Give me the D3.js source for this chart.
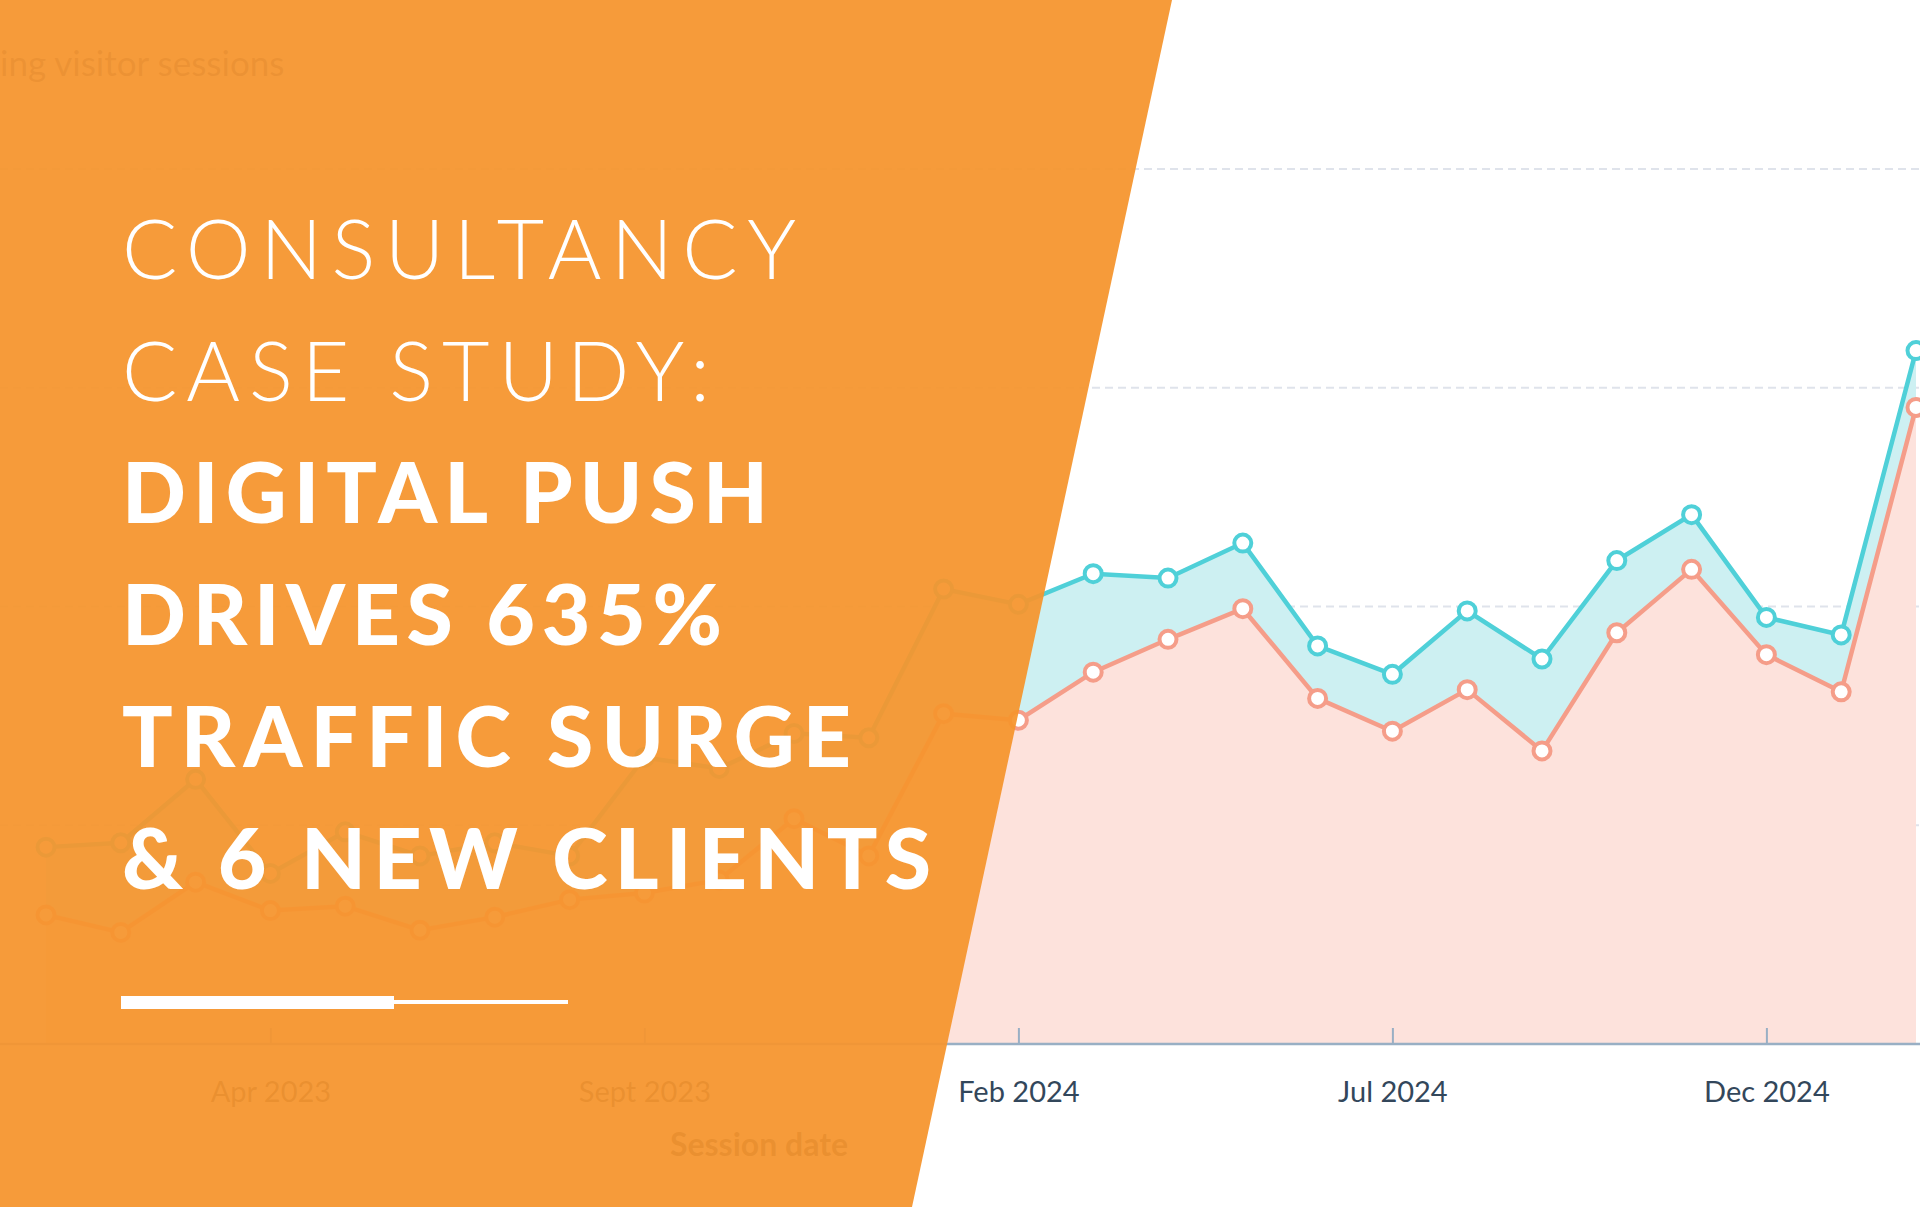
<!DOCTYPE html>
<html lang="en">
<head>
<meta charset="UTF-8">
<title>Consultancy case study</title>
<script src="https://d3js.org/d3.v7.min.js"></script>
<style>
  html, body { margin: 0; padding: 0; background: #fff; overflow: hidden; }
  svg { display: block; }
</style>
</head>
<body>
<svg id="chart" width="1920" height="1207"></svg>
<script>
// Monthly sessions (units of one gridline step), Jan 2023 .. Feb 2025
const months = ["Jan 2023","Feb 2023","Mar 2023","Apr 2023","May 2023","Jun 2023","Jul 2023","Aug 2023",
  "Sept 2023","Oct 2023","Nov 2023","Dec 2023","Jan 2024","Feb 2024","Mar 2024","Apr 2024","May 2024","Jun 2024",
  "Jul 2024","Aug 2024","Sep 2024","Oct 2024","Nov 2024","Dec 2024","Jan 2025","Feb 2025"];
const tickMonths = ["Apr 2023","Sept 2023","Feb 2024","Jul 2024","Dec 2024"];
const totalSessions = [0.90,0.92,1.21,0.78,0.97,0.86,0.92,0.86,1.31,1.26,1.42,1.40,2.08,2.01,2.15,2.13,2.29,1.82,1.69,1.98,1.76,2.21,2.42,1.95,1.87,3.17];
const returningSessions = [0.59,0.51,0.74,0.61,0.63,0.52,0.58,0.66,0.69,0.75,1.03,0.86,1.51,1.48,1.70,1.85,1.99,1.58,1.43,1.62,1.34,1.88,2.17,1.78,1.61,2.91];
const gridValues = [1, 2, 3, 4];
const titleLight = ["CONSULTANCY", "CASE STUDY:"];
const titleBold = ["DIGITAL PUSH", "DRIVES 635%", "TRAFFIC SURGE", "& 6 NEW CLIENTS"];

const svg = d3.select("#chart");
const baseY = 1044;

const x = d3.scalePoint().domain(months).range([46, 1916]);
const y = d3.scaleLinear().domain([0, 4]).range([baseY, 169]);

const chart = svg.append("g");

// chart title, only its tail shows under the banner
chart.append("text")
  .attr("x", 0).attr("y", 76)
  .attr("font-family", "Lato, sans-serif").attr("font-size", 35).attr("fill", "#516f90")
  .text("ing visitor sessions");

// gridlines
chart.append("g").selectAll("line").data(gridValues).join("line")
  .attr("x1", 0).attr("x2", 1920)
  .attr("y1", d => y(d)).attr("y2", d => y(d))
  .attr("stroke", "#dfe3eb").attr("stroke-width", 2).attr("stroke-dasharray", "8,5");

const upperArea = d3.area().x((d, i) => x(months[i])).y0((d, i) => y(returningSessions[i])).y1(d => y(d));
const lowerArea = d3.area().x((d, i) => x(months[i])).y0(baseY).y1(d => y(d));
const line = d3.line().x((d, i) => x(months[i])).y(d => y(d));

chart.append("path").datum(totalSessions).attr("d", upperArea).attr("fill", "#cdf0f2");
chart.append("path").datum(returningSessions).attr("d", lowerArea).attr("fill", "#fde2dc");

const series = [
  { data: returningSessions, color: "#f59d89" },
  { data: totalSessions, color: "#4fd0d8" }
];
series.forEach(s => {
  chart.append("path").datum(s.data).attr("d", line)
    .attr("fill", "none").attr("stroke", s.color).attr("stroke-width", 4.5);
  chart.append("g").selectAll("circle").data(s.data).join("circle")
    .attr("cx", (d, i) => x(months[i])).attr("cy", d => y(d)).attr("r", 8.5)
    .attr("fill", "#fff").attr("stroke", s.color).attr("stroke-width", 4);
});

// x axis
const axis = chart.append("g").attr("transform", `translate(0,${baseY})`)
  .call(d3.axisBottom(x).tickValues(tickMonths).tickSize(-16).tickPadding(28));
axis.select(".domain").attr("d", "M0,0H1920").attr("stroke", "#99afc4").attr("stroke-width", 2.5);
axis.selectAll(".tick line").attr("stroke", "#99afc4").attr("stroke-width", 2);
axis.selectAll(".tick text").attr("font-family", "Lato, sans-serif").attr("font-size", 29)
  .attr("fill", "#33475b").attr("dy", "1.05em");

chart.append("text").attr("x", 759).attr("y", 1156).attr("text-anchor", "middle")
  .attr("font-family", "Lato, sans-serif").attr("font-weight", 700).attr("font-size", 32)
  .attr("fill", "#33475b").text("Session date");

// orange banner
svg.append("path")
  .attr("d", "M0,0H1172L912,1207H0Z")
  .attr("fill", "#f5952e").attr("fill-opacity", 0.94);

const lightWidths = [674, 588];
const boldWidths = [646, 600, 729, 809];
svg.append("g").selectAll("text").data(titleLight).join("text")
  .attr("x", 122).attr("y", (d, i) => 279 + i * 122)
  .attr("font-family", "Lato, sans-serif").attr("font-weight", 300).attr("font-size", 82)
  .attr("fill", "#fff").attr("textLength", (d, i) => lightWidths[i]).attr("lengthAdjust", "spacing")
  .text(d => d);
svg.append("g").selectAll("text").data(titleBold).join("text")
  .attr("x", 122).attr("y", (d, i) => 523 + i * 122)
  .attr("font-family", "Lato, sans-serif").attr("font-weight", 900).attr("font-size", 84)
  .attr("fill", "#fff").attr("textLength", (d, i) => boldWidths[i]).attr("lengthAdjust", "spacing")
  .text(d => d);

// underline accent
svg.append("rect").attr("x", 121).attr("y", 996).attr("width", 273).attr("height", 13).attr("fill", "#fff");
svg.append("rect").attr("x", 394).attr("y", 1000).attr("width", 174).attr("height", 4).attr("fill", "#fff");
</script>
</body>
</html>
